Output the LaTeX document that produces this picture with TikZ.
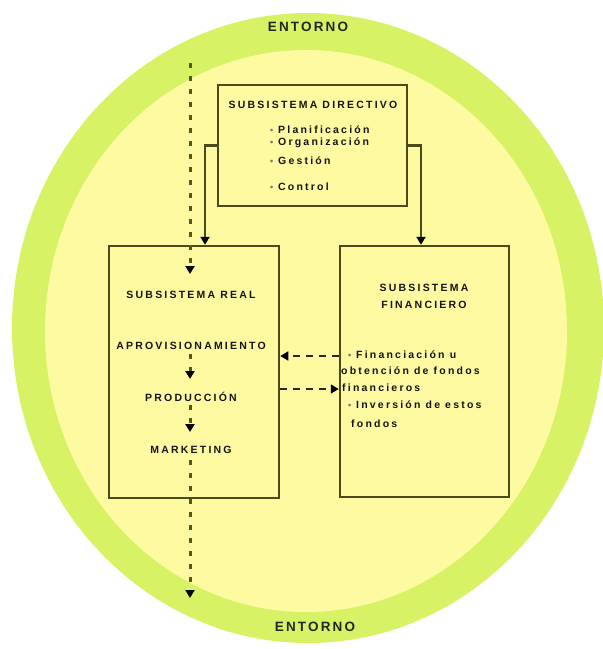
\documentclass[tikz,border=0pt]{standalone}
\usepackage{fontspec}
\setmainfont{Liberation Sans}
\newfontfamily\boxfont{Liberation Sans}[LetterSpace=21]
\newfontfamily\envfont{Liberation Sans}[LetterSpace=16]
\usetikzlibrary{arrows.meta}
\definecolor{ring}{HTML}{D8F266}
\definecolor{inner}{HTML}{FEFAA2}
\definecolor{edge}{HTML}{4A4A1C}
\definecolor{dots}{HTML}{4F5A1E}
\definecolor{txt}{HTML}{141414}
\definecolor{envtxt}{HTML}{1E2A1E}
\newcommand\bul{\makebox[8pt][l]{\raisebox{0.5pt}{\fontsize{9}{9}\selectfont\color{black!55}\textbullet}}}
\begin{document}
\begin{tikzpicture}[x=1pt,y=-1pt,
  box/.style={draw=edge, line width=2.5pt, fill=inner, inner sep=0pt},
  lbl/.style={font=\boxfont\bfseries\fontsize{10.5}{12}\selectfont, text=txt, inner sep=0pt},
  env/.style={font=\envfont\bfseries\fontsize{13.5}{15}\selectfont, text=envtxt, inner sep=0pt},
  conn/.style={draw=edge, line width=2.3pt, -{Triangle[width=9pt,length=8pt,color=black]}},
  flow/.style={draw=dots, line width=3pt, dash pattern=on 5pt off 8pt, -{Triangle[width=9pt,length=8pt,color=black]}},
  xdash/.style={draw=black!85, line width=1.6pt, dash pattern=on 7pt off 6pt, -{Triangle[width=9pt,length=8pt,color=black]}}]
\useasboundingbox (0,0) rectangle (603,649);
\fill[white] (0,0) rectangle (603,649);
% environment
\fill[ring] (308,328) ellipse [x radius=296, y radius=315];
\fill[inner] (306,331) ellipse [x radius=261, y radius=281];
\node[env] (envtop) at (308,27) {ENTORNO};
\node[env] (envbot) at (315,627) {ENTORNO};
% boxes
\node[box, minimum width=189pt, minimum height=121pt] (dir) at (312.5,145.5) {};
\node[box, minimum width=170pt, minimum height=252pt] (real) at (194,372) {};
\node[box, minimum width=169pt, minimum height=251pt] (fin) at (424.5,371.5) {};
% directive texts
\node[lbl] (dtitle) at (313,105) {SUBSISTEMA DIRECTIVO};
\node[lbl, anchor=west] (d1) at (270,130) {\bul Planificación};
\node[lbl, anchor=west] (d2) at (270,143) {\bul Organización};
\node[lbl, anchor=west] (d3) at (270,161) {\bul Gestión};
\node[lbl, anchor=west] (d4) at (270,187) {\bul Control};
% real texts
\node[lbl] (rtitle) at (191,295) {SUBSISTEMA REAL};
\node[lbl] (r1) at (191,346) {APROVISIONAMIENTO};
\node[lbl] (r2) at (191,397) {PRODUCCIÓN};
\node[lbl] (r3) at (191,450) {MARKETING};
% financiero texts
\node[lbl] (ftitle1) at (424,288) {SUBSISTEMA};
\node[lbl] (ftitle2) at (424,305) {FINANCIERO};
\node[lbl, anchor=west] (f1) at (348,355) {\bul Financiación u};
\node[lbl, anchor=west] (f2) at (341,371) {obtención de fondos};
\node[lbl, anchor=west] (f3) at (342,388) {financieros};
\node[lbl, anchor=west] (f4) at (348,405) {\bul Inversión de estos};
\node[lbl, anchor=west] (f5) at (351,424) {fondos};
% directive connectors
\coordinate (lc) at (205,0);
\coordinate (rc) at (421,0);
\draw[conn] (dir.west) -| (lc |- real.north);
\draw[conn] (dir.east) -| (rc |- fin.north);
% flow line
\coordinate (ftop) at (190,63);
\coordinate (fa1) at (190,274);
\coordinate (fs2) at (190,354);
\coordinate (fa2) at (190,379);
\coordinate (fs3) at (190,405);
\coordinate (fa3) at (190,432);
\coordinate (fs4) at (190,460);
\coordinate (fend) at (190,598);
\draw[flow] (ftop) -- (fa1);
\draw[flow] (fs2) -- (fa2);
\draw[flow] (fs3) -- (fa3);
\draw[flow] (fs4) -- (fend);
% dashed exchanges
\coordinate (y1) at (0,356);
\coordinate (y2) at (0,389);
\draw[xdash] (fin.west |- y1) -- (real.east |- y1);
\draw[xdash] (real.east |- y2) -- (fin.west |- y2);
\end{tikzpicture}
\end{document}
